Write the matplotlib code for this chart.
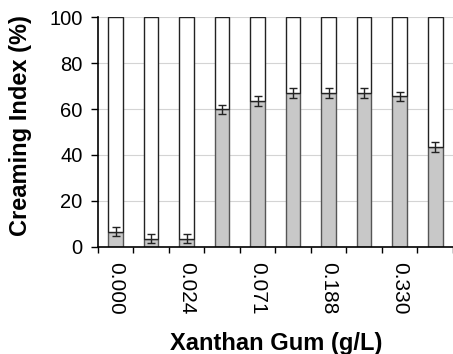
import numpy as np
import matplotlib
matplotlib.use("Agg")
import matplotlib.pyplot as plt

plt.rcParams['font.family'] = ['Liberation Sans', 'DejaVu Sans']

# creaming index for each xanthan gum level
xanthan = ['0.000', '', '0.024', '', '0.071', '', '0.188', '', '0.330', '']
cream = [6.5, 3.5, 3.5, 60.0, 63.5, 67.0, 67.0, 67.0, 65.5, 43.5]
cream_err = [2.0, 2.0, 2.0, 2.0, 2.0, 2.0, 2.0, 2.0, 2.0, 2.0]

fig = plt.figure(figsize=(4.53, 3.54), dpi=100)
ax = fig.add_axes([0.216, 0.303, 0.784, 0.648])

x = np.arange(len(cream))
w = 0.41
rest = [100 - c for c in cream]
ax.bar(x, cream, width=w, color='#c8c8c8', edgecolor='#555555', linewidth=1.0, zorder=2)
ax.bar(x, rest, width=w, bottom=cream, color='white', edgecolor='#222222', linewidth=1.0, zorder=2)
ax.errorbar(x, cream, yerr=cream_err, fmt='none', ecolor='#222222', elinewidth=1.0,
            capsize=3, capthick=1.0, zorder=3)

ax.set_xlim(-0.5, len(cream) - 0.5)
ax.set_ylim(0, 100)
ax.set_yticks([0, 20, 40, 60, 80, 100])
ax.yaxis.grid(True, color='#d4d4d4', linewidth=0.8, zorder=0)
ax.set_axisbelow(True)

ax.set_xticks(x)
ax.set_xticklabels(xanthan, rotation=270, fontsize=15)
ax.set_xticks(np.arange(-0.5, len(cream)), minor=True)
ax.tick_params(axis='x', which='major', length=0, pad=11)
ax.tick_params(axis='x', which='minor', length=4, width=1, direction='out')
ax.tick_params(axis='y', labelsize=14.5, length=5, width=1, direction='out', pad=6)

for side in ['top', 'right']:
    ax.spines[side].set_visible(False)
ax.spines['left'].set_linewidth(1.2)
ax.spines['bottom'].set_linewidth(1.2)

ax.set_ylabel('Creaming Index (%)', fontsize=17, fontweight='bold')
ax.set_xlabel('Xanthan Gum (g/L)', fontsize=17, fontweight='bold')
ax.yaxis.set_label_coords(-0.185, 0.53)
ax.xaxis.set_label_coords(0.503, -0.37)

fig.savefig('out.png', dpi=100)
